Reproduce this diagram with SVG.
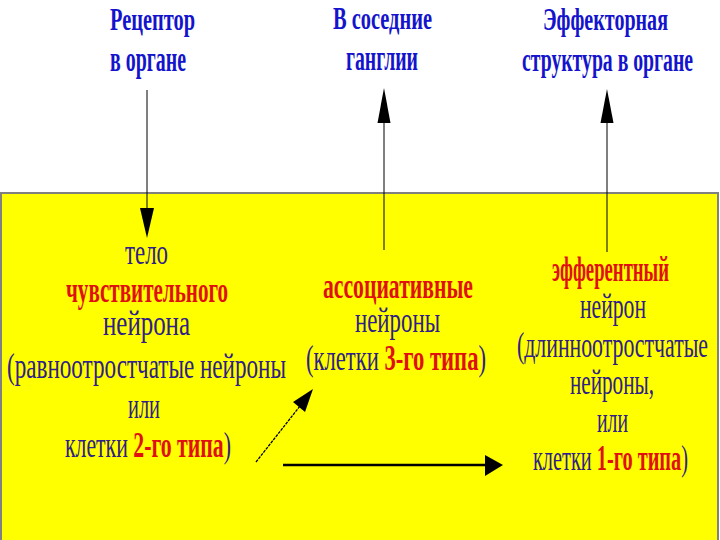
<svg xmlns="http://www.w3.org/2000/svg" width="720" height="540" viewBox="0 0 720 540">
<style>
.hd{font-family:"Liberation Serif","DejaVu Serif",serif;font-weight:bold;font-size:31px;fill:#1414cc;text-anchor:start}
.bd{font-family:"Liberation Serif","DejaVu Serif",serif;font-size:35px;fill:#2e2088;text-anchor:start}
.rd{font-weight:bold;fill:#e01010}
.ln{stroke:#000;fill:none}
</style>
<rect x="0" y="0" width="720" height="540" fill="#fff"/>
<rect x="1" y="193" width="717" height="350" fill="#ffff00" stroke="#808080" stroke-width="2"/>

<g id="receptor">
<text class="hd" x="110" y="30" textLength="85" lengthAdjust="spacingAndGlyphs">Рецептор</text>
<text class="hd" x="110" y="71" textLength="76" lengthAdjust="spacingAndGlyphs" style="font-size:35px">в органе</text>
</g>
<g id="ganglia">
<text class="hd" x="333" y="29" textLength="99" lengthAdjust="spacingAndGlyphs">В соседние</text>
<text class="hd" x="346" y="70" textLength="72" lengthAdjust="spacingAndGlyphs" style="font-size:35px">ганглии</text>
</g>
<g id="effector-structure">
<text class="hd" x="543" y="30" textLength="125" lengthAdjust="spacingAndGlyphs">Эффекторная</text>
<text class="hd" x="522" y="71" textLength="171" lengthAdjust="spacingAndGlyphs" style="font-size:34px">структура в органе</text>
</g>

<g id="sensory">
<text class="bd" x="125" y="264" textLength="43" lengthAdjust="spacingAndGlyphs">тело</text>
<text class="bd rd" x="66" y="302" textLength="162" lengthAdjust="spacingAndGlyphs">чувствительного</text>
<text class="bd" x="103" y="335" textLength="87" lengthAdjust="spacingAndGlyphs">нейрона</text>
<text class="bd" x="7" y="378" textLength="279" lengthAdjust="spacingAndGlyphs">(равноотростчатые нейроны</text>
<text class="bd" x="128" y="418" textLength="32" lengthAdjust="spacingAndGlyphs">или</text>
<text class="bd" x="65" y="457" textLength="166" lengthAdjust="spacingAndGlyphs">клетки <tspan class="rd">2-го типа</tspan>)</text>
</g>

<g id="associative">
<text class="bd rd" x="323" y="298" textLength="150" lengthAdjust="spacingAndGlyphs">ассоциативные</text>
<text class="bd" x="355" y="332" textLength="85" lengthAdjust="spacingAndGlyphs">нейроны</text>
<text class="bd" x="306" y="370" textLength="180" lengthAdjust="spacingAndGlyphs">(клетки <tspan class="rd">3-го типа</tspan>)</text>
</g>

<g id="efferent">
<text class="bd rd" x="552" y="281" textLength="117" lengthAdjust="spacingAndGlyphs">эфферентный</text>
<text class="bd" x="580" y="318" textLength="66" lengthAdjust="spacingAndGlyphs">нейрон</text>
<text class="bd" x="517" y="357" textLength="191" lengthAdjust="spacingAndGlyphs">(длинноотростчатые</text>
<text class="bd" x="570" y="394" textLength="84" lengthAdjust="spacingAndGlyphs">нейроны,</text>
<text class="bd" x="597" y="432" textLength="31" lengthAdjust="spacingAndGlyphs">или</text>
<text class="bd" x="533" y="470" textLength="155" lengthAdjust="spacingAndGlyphs">клетки <tspan class="rd">1-го типа</tspan>)</text>
</g>

<g id="connectors">
<line class="ln" x1="147" y1="90" x2="147" y2="210" stroke-width="1"/>
<polygon points="140,208 154,208 147,238" fill="#000"/>
<line class="ln" x1="384" y1="250" x2="384" y2="120" stroke-width="1"/>
<polygon points="377.5,123 390.5,123 384,88" fill="#000"/>
<line class="ln" x1="607" y1="252" x2="607" y2="120" stroke-width="1"/>
<polygon points="600.5,123 613.5,123 607,89" fill="#000"/>
<line class="ln" x1="256" y1="462" x2="300" y2="406" stroke-width="1.3" stroke-dasharray="3 1"/>
<polygon points="313,389 305,412 293,402" fill="#000"/>
<line class="ln" x1="283" y1="465" x2="488" y2="465" stroke-width="2.5"/>
<polygon points="485,455 485,476 503,465" fill="#000"/>
</g>
</svg>
